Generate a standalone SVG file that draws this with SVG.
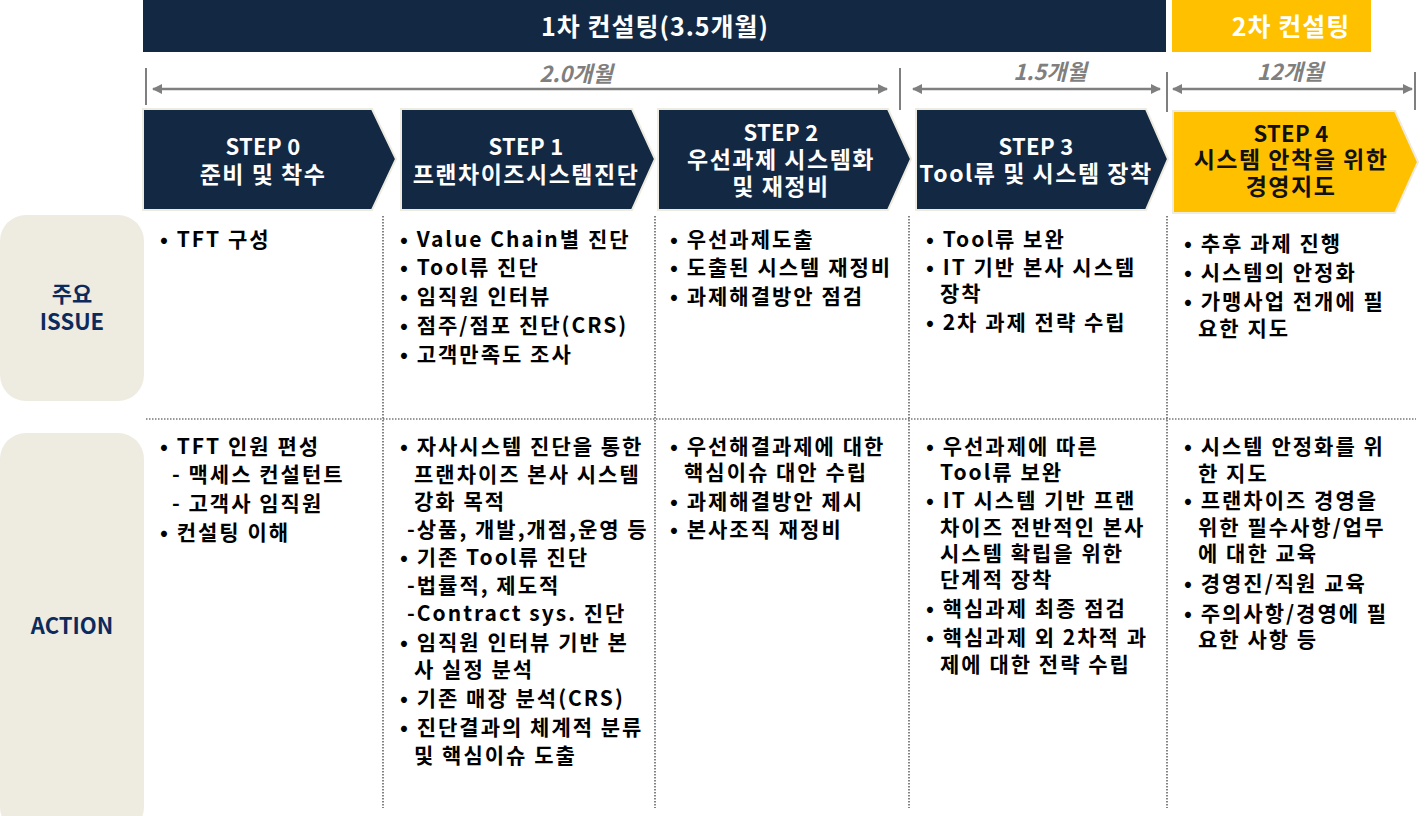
<svg xmlns="http://www.w3.org/2000/svg" width="1426" height="816" viewBox="0 0 1426 816">
<style>
text{font-family:"Noto Sans CJK KR","Noto Sans",sans-serif;font-weight:bold}
.hd{fill:#fff;font-size:25px;letter-spacing:1px;text-anchor:middle}
.dur{fill:#7f7f7f;font-size:22px;font-style:italic;text-anchor:middle}
.st{fill:#fff;font-size:23px;letter-spacing:1.5px;text-anchor:middle}
.st4{fill:#111;font-size:23px;letter-spacing:1.5px;text-anchor:middle}
.sn{letter-spacing:0.3px;font-size:22px}
.lb{fill:#0d2a5c;font-size:22px;text-anchor:middle}
.b{fill:#000;font-size:21px;letter-spacing:2px}
.tick{stroke:#7f7f7f;stroke-width:2}
.arr{stroke:#7f7f7f;stroke-width:2.5;marker-start:url(#ah);marker-end:url(#ah)}
.chev{fill:#132843;stroke:#EEECE1;stroke-width:2}
.dot{stroke:#333;stroke-width:1.2;stroke-dasharray:1.5 1.5;fill:none}
</style>
<defs>
<marker id="ah" viewBox="0 0 10 10" refX="9" refY="5" markerWidth="4" markerHeight="4" orient="auto-start-reverse" markerUnits="strokeWidth">
<path d="M0,0 L10,5 L0,10 z" fill="#7f7f7f"/>
</marker>
</defs>
<rect width="1426" height="816" fill="#fff"/>

<g id="header">
<rect x="143" y="0" width="1023" height="52" fill="#132843"/>
<text class="hd" x="655" y="36">1차 컨설팅(3.5개월)</text>
<rect x="1172" y="0" width="199" height="52" fill="#FFC000"/>
<text class="hd" x="1291" y="36">2차 컨설팅</text>
</g>

<g id="connectors">
<line class="tick" x1="146" y1="68" x2="146" y2="105"/>
<line class="tick" x1="900" y1="68" x2="900" y2="110"/>
<line class="tick" x1="1167" y1="72" x2="1167" y2="112"/>
<line class="tick" x1="1415" y1="72" x2="1415" y2="110"/>
<line class="arr" x1="153" y1="89" x2="887" y2="89"/>
<line class="arr" x1="913" y1="89" x2="1160" y2="89"/>
<line class="arr" x1="1173" y1="89" x2="1412" y2="89"/>
<text class="dur" x="576" y="82">2.0개월</text>
<text class="dur" x="1050" y="80">1.5개월</text>
<text class="dur" x="1290" y="80">12개월</text>
</g>

<g id="step0">
<path class="chev" d="M143,109 H372 L396,159 L372,210 H143 Z"/>
<text class="st sn" x="263" y="155">STEP 0</text>
<text class="st" x="263" y="183">준비 및 착수</text>
</g>
<g id="step1">
<path class="chev" d="M401,109 H632 L655,159 L632,210 H401 Z"/>
<text class="st sn" x="526" y="155">STEP 1</text>
<text class="st" x="526" y="183">프랜차이즈시스템진단</text>
</g>
<g id="step2">
<path class="chev" d="M658,109 H888 L911,159 L888,210 H658 Z"/>
<text class="st sn" x="781" y="141">STEP 2</text>
<text class="st" x="781" y="168">우선과제 시스템화</text>
<text class="st" x="781" y="195">및 재정비</text>
</g>
<g id="step3">
<path class="chev" d="M916,109 H1146 L1168,159 L1146,210 H916 Z"/>
<text class="st sn" x="1036" y="155">STEP 3</text>
<text class="st" x="1036" y="182">Tool류 및 시스템 장착</text>
</g>
<g id="step4">
<path d="M1173,111 H1395 L1418,162 L1395,213 H1173 Z" fill="#FFC000" stroke="#EEECE1" stroke-width="2"/>
<text class="st4 sn" x="1291" y="142">STEP 4</text>
<text class="st4" x="1291" y="168">시스템 안착을 위한</text>
<text class="st4" x="1291" y="195">경영지도</text>
</g>

<g id="label-issue">
<rect x="0" y="215" width="144" height="186" rx="26" fill="#EEECE1"/>
<text class="lb" x="72" y="302">주요</text>
<text class="lb" x="72" y="330">ISSUE</text>
</g>
<g id="label-action">
<rect x="0" y="433" width="144" height="400" rx="26" fill="#EEECE1"/>
<text class="lb" x="72" y="634">ACTION</text>
</g>

<g id="grid">
<line class="dot" x1="146" y1="419" x2="1416" y2="419"/>
<line class="dot" x1="383" y1="216" x2="383" y2="808"/>
<line class="dot" x1="655" y1="216" x2="655" y2="808"/>
<line class="dot" x1="909" y1="216" x2="909" y2="808"/>
<line class="dot" x1="1167" y1="216" x2="1167" y2="808"/>
</g>

<g id="col0">
<text class="b" x="160" y="247">• TFT 구성</text>
<text class="b" x="160" y="454">• TFT 인원 편성</text>
<text class="b" x="172" y="482">- 맥세스 컨설턴트</text>
<text class="b" x="172" y="511">- 고객사 임직원</text>
<text class="b" x="160" y="540">• 컨설팅 이해</text>
</g>

<g id="col1">
<text class="b" x="400" y="247">• Value Chain별 진단</text>
<text class="b" x="400" y="275">• Tool류 진단</text>
<text class="b" x="400" y="304">• 임직원 인터뷰</text>
<text class="b" x="400" y="333">• 점주/점포 진단(CRS)</text>
<text class="b" x="400" y="362">• 고객만족도 조사</text>
<text class="b" x="400" y="454">• 자사시스템 진단을 통한</text>
<text class="b" x="414" y="482">프랜차이즈 본사 시스템</text>
<text class="b" x="414" y="509">강화 목적</text>
<text class="b" x="407" y="537">-상품, 개발,개점,운영 등</text>
<text class="b" x="400" y="565">• 기존 Tool류 진단</text>
<text class="b" x="407" y="593">-법률적, 제도적</text>
<text class="b" x="407" y="621">-Contract sys. 진단</text>
<text class="b" x="400" y="650">• 임직원 인터뷰 기반 본</text>
<text class="b" x="414" y="677">사 실정 분석</text>
<text class="b" x="400" y="706">• 기존 매장 분석(CRS)</text>
<text class="b" x="400" y="735">• 진단결과의 체계적 분류</text>
<text class="b" x="414" y="763">및 핵심이슈 도출</text>
</g>

<g id="col2">
<text class="b" x="670" y="247">• 우선과제도출</text>
<text class="b" x="670" y="275">• 도출된 시스템 재정비</text>
<text class="b" x="670" y="304">• 과제해결방안 점검</text>
<text class="b" x="670" y="454">• 우선해결과제에 대한</text>
<text class="b" x="684" y="480">핵심이슈 대안 수립</text>
<text class="b" x="670" y="509">• 과제해결방안 제시</text>
<text class="b" x="670" y="537">• 본사조직 재정비</text>
</g>

<g id="col3">
<text class="b" x="926" y="247">• Tool류 보완</text>
<text class="b" x="926" y="275">• IT 기반 본사 시스템</text>
<text class="b" x="940" y="301">장착</text>
<text class="b" x="926" y="330">• 2차 과제 전략 수립</text>
<text class="b" x="926" y="454">• 우선과제에 따른</text>
<text class="b" x="940" y="480">Tool류 보완</text>
<text class="b" x="926" y="508">• IT 시스템 기반 프랜</text>
<text class="b" x="940" y="535">차이즈 전반적인 본사</text>
<text class="b" x="940" y="561">시스템 확립을 위한</text>
<text class="b" x="940" y="587">단계적 장착</text>
<text class="b" x="926" y="616">• 핵심과제 최종 점검</text>
<text class="b" x="926" y="645">• 핵심과제 외 2차적 과</text>
<text class="b" x="940" y="672">제에 대한 전략 수립</text>
</g>

<g id="col4">
<text class="b" x="1184" y="251">• 추후 과제 진행</text>
<text class="b" x="1184" y="280">• 시스템의 안정화</text>
<text class="b" x="1184" y="309">• 가맹사업 전개에 필</text>
<text class="b" x="1198" y="336">요한 지도</text>
<text class="b" x="1184" y="454">• 시스템 안정화를 위</text>
<text class="b" x="1198" y="481">한 지도</text>
<text class="b" x="1184" y="508">• 프랜차이즈 경영을</text>
<text class="b" x="1198" y="535">위한  필수사항/업무</text>
<text class="b" x="1198" y="561">에 대한 교육</text>
<text class="b" x="1184" y="591">• 경영진/직원 교육</text>
<text class="b" x="1184" y="621">• 주의사항/경영에 필</text>
<text class="b" x="1198" y="647">요한 사항 등</text>
</g>
</svg>
